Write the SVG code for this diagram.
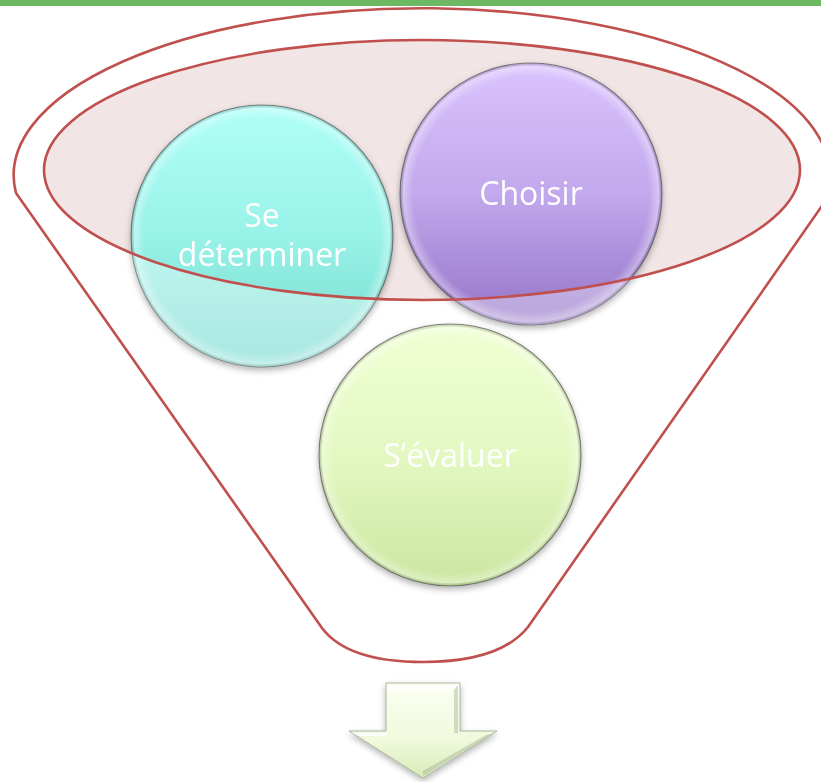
<svg xmlns="http://www.w3.org/2000/svg" width="821" height="782" viewBox="0 0 821 782">
<style>
.funnel{fill:none;stroke:#c0504d;stroke-width:2.6;stroke-linejoin:round}
.inner{fill:#f1e5e5;stroke:none}
.innerline{fill:none;stroke:#c0504d;stroke-width:2.6}
.circ{stroke:#5a5a5a;stroke-opacity:0.7;stroke-width:1.2}
.lbl{font-family:"Open Sans","Liberation Sans",sans-serif;font-size:32px;fill:#ffffff;text-anchor:middle}
</style>
<defs>
<linearGradient id="gCyan" x1="0" y1="0" x2="0" y2="1">
<stop offset="0" stop-color="#b0fff8"/>
<stop offset="0.5" stop-color="#98f2e8"/>
<stop offset="1" stop-color="#74d8cc"/>
</linearGradient>
<linearGradient id="gPurple" x1="0" y1="0" x2="0" y2="1">
<stop offset="0" stop-color="#dac4fe"/>
<stop offset="0.5" stop-color="#c2a8ec"/>
<stop offset="1" stop-color="#9474c8"/>
</linearGradient>
<linearGradient id="gGreen" x1="0" y1="0" x2="0" y2="1">
<stop offset="0" stop-color="#f0ffd4"/>
<stop offset="0.5" stop-color="#e4f8c2"/>
<stop offset="1" stop-color="#cae6a0"/>
</linearGradient>
<radialGradient id="gBevel" cx="0.5" cy="0.5" r="0.5">
<stop offset="0.9" stop-color="#ffffff" stop-opacity="0"/>
<stop offset="0.975" stop-color="#ffffff" stop-opacity="0.35"/>
<stop offset="1" stop-color="#000000" stop-opacity="0.15"/>
</radialGradient>
<linearGradient id="gArrow" x1="0" y1="0" x2="0" y2="1">
<stop offset="0" stop-color="#fbfff2"/>
<stop offset="0.6" stop-color="#f0f9dc"/>
<stop offset="1" stop-color="#d8ecb8"/>
</linearGradient>
<filter id="shadow" x="-20%" y="-20%" width="140%" height="140%">
<feDropShadow dx="0" dy="3" stdDeviation="3" flood-color="#000" flood-opacity="0.3"/>
</filter>
<mask id="outsideEllipse">
<rect x="0" y="0" width="821" height="782" fill="#fff"/>
<ellipse cx="422" cy="170" rx="378" ry="130" fill="#000"/>
</mask>
</defs>

<rect id="topbar" x="0" y="0" width="821" height="6" fill="#6db862"/>

<g id="funnel">
<path class="funnel" d="M 16,193 A 408 167 0 1 1 824,203 L 528,627 C 508,652 470,662 423,662 C 376,662 340,652 322,628 Z"/>
<ellipse class="inner" cx="422" cy="170" rx="378" ry="130"/>
</g>

<g id="node-se-determiner" filter="url(#shadow)">
<circle class="circ" cx="262" cy="236" r="131" fill="url(#gCyan)"/>
<circle cx="262" cy="236" r="131" fill="url(#gBevel)"/>
<circle cx="262" cy="236" r="131" fill="#ffffff" fill-opacity="0.38" mask="url(#outsideEllipse)"/>
<text class="lbl" x="262" y="227">Se</text>
<text class="lbl" x="262" y="266">déterminer</text>
</g>

<g id="node-choisir" filter="url(#shadow)">
<circle class="circ" cx="531" cy="194" r="131" fill="url(#gPurple)"/>
<circle cx="531" cy="194" r="131" fill="url(#gBevel)"/>
<circle cx="531" cy="194" r="131" fill="#ffffff" fill-opacity="0.35" mask="url(#outsideEllipse)"/>
<text class="lbl" x="531" y="205">Choisir</text>
</g>

<g id="inner-outline">
<ellipse class="innerline" cx="422" cy="170" rx="378" ry="130"/>
</g>

<g id="node-s-evaluer" filter="url(#shadow)">
<circle class="circ" cx="450" cy="455" r="131" fill="url(#gGreen)"/>
<circle cx="450" cy="455" r="131" fill="url(#gBevel)"/>
<text class="lbl" x="450" y="467">S’évaluer</text>
</g>

<g id="connectors">
<g id="arrow" filter="url(#shadow)">
<path d="M 386,683 L 460,683 L 460,731 L 497,731 L 423,778 L 349,731 L 386,731 Z" fill="url(#gArrow)" stroke="#9aa690" stroke-width="0.8"/>
<path d="M 388,685 L 458,685 L 456,690 L 390,690 Z" fill="#ffffff" fill-opacity="0.7"/>
<path d="M 458,685 L 458,733 L 454,733 L 454,690 Z" fill="#b8c4a8" fill-opacity="0.6"/>
<path d="M 352,733 L 388,733 L 386,736 L 360,736 Z" fill="#ffffff" fill-opacity="0.8"/>
<path d="M 494,733 L 423,776 L 423,771 L 486,735 Z" fill="#a8b898" fill-opacity="0.5"/>
</g>
</g>
</svg>
